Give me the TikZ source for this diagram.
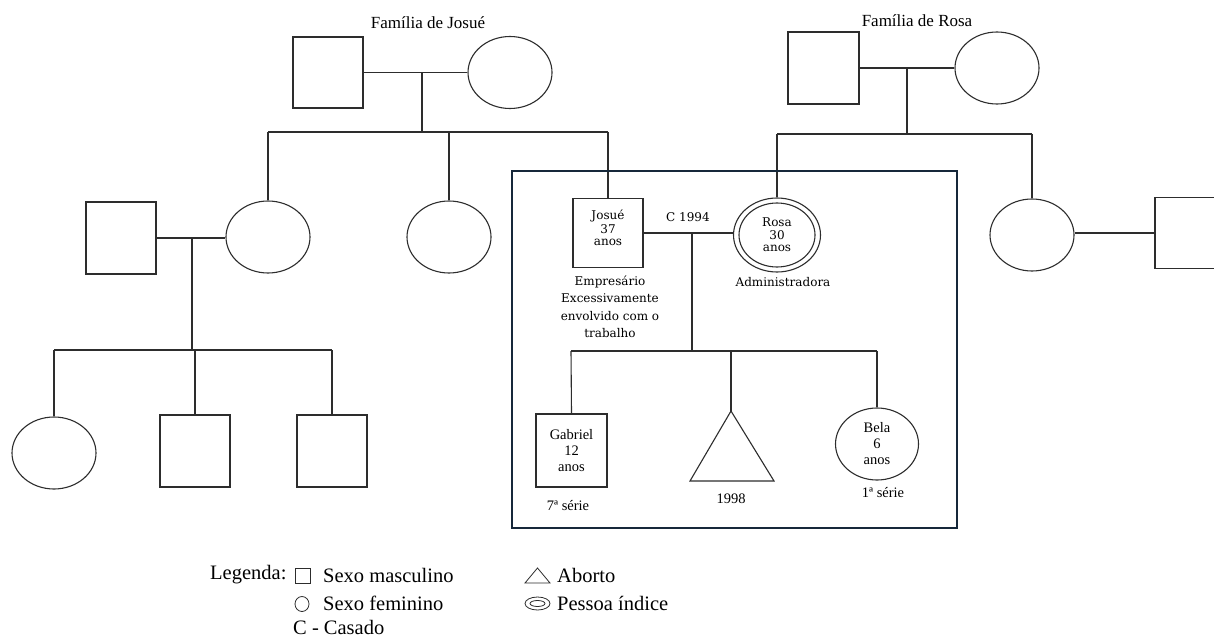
\documentclass[tikz,border=0pt]{standalone}
\usepackage{fontspec}
\setmainfont{Liberation Serif}
\newfontfamily\dvs{DejaVu Serif}
\usetikzlibrary{shapes.geometric}
\definecolor{boxblue}{RGB}{22,40,58}
\definecolor{ln}{RGB}{45,45,45}
\tikzset{
 male/.style={draw=ln,line width=1.1pt,rectangle,minimum width=70pt,minimum height=71pt,inner sep=0pt,align=center},
 female/.style={draw=ln,line width=1.1pt,ellipse,minimum width=84pt,minimum height=72pt,inner sep=0pt,align=center},
 link/.style={draw=ln,line width=1.1pt},
 small/.style={font=\fontsize{14.5}{18}\selectfont},
 wide/.style={font=\dvs\fontsize{12}{16}\selectfont},
 title/.style={font=\fontsize{17}{20}\selectfont,inner sep=0pt},
 leg/.style={font=\fontsize{20.5}{24}\selectfont,anchor=west,inner sep=0pt},
 legsym/.style={draw=ln,line width=0.8pt,inner sep=0pt},
}
\begin{document}
\begin{tikzpicture}[x=1pt,y=-1pt]
\path[use as bounding box,clip] (0,0) rectangle (1214,639);
\fill[white] (0,0) rectangle (1214,639);

% ---------- Família de Josué ----------
\node[title] (tj) at (428,23) {Família de Josué};
\node[male] (jf) at (328,72.5) {};
\node[female] (jm) at (510,72.5) {};
\draw[link] (jf.east) -- (jf.east -| jm.west);
\coordinate (jd) at (422,72.5);
\coordinate (jb) at (422,132);
\draw[link] (jd) -- (jb);
\coordinate (jl) at (268,132);
\coordinate (jr) at (608,132);
\draw[link] (jl) -- (jr);

\node[female] (js1) at (268,237) {};
\node[female] (js2) at (449,237) {};
\node[male,minimum height=69pt] (jos) at (608,233) {};
\node[wide,align=center] (josT) at (608,228) {Josué\\[-2pt]37\\[-4pt]anos};
\draw[link] (jl) -- (js1.north);
\draw[link] (js2.north |- jb) -- (js2.north);
\draw[link] (jr) -- (jos.north);

% left sister's family
\node[male,minimum height=72pt] (h1) at (121,238) {};
\draw[link] (h1.east) -- (h1.east -| js1.west);
\coordinate (ld) at (192,238);
\coordinate (lb) at (192,350);
\draw[link] (ld) -- (lb);
\coordinate (ll) at (54,350);
\coordinate (lr) at (332,350);
\draw[link] (ll) -- (lr);
\node[female] (c1) at (54,453) {};
\node[male,minimum height=72pt] (c2) at (195,451) {};
\node[male,minimum height=72pt] (c3) at (332,451) {};
\draw[link] (ll) -- (c1.north);
\draw[link] (c2.north |- lb) -- (c2.north);
\draw[link] (lr) -- (c3.north);

% ---------- Família de Rosa ----------
\node[title] (tr) at (917,21) {Família de Rosa};
\node[male,minimum width=71pt,minimum height=72pt] (rf) at (823.5,68) {};
\node[female] (rm) at (997,68) {};
\draw[link] (rf.east) -- (rf.east -| rm.west);
\coordinate (rd) at (907,68);
\coordinate (rb) at (907,134);
\draw[link] (rd) -- (rb);
\coordinate (rl) at (777,134);
\coordinate (rr) at (1032,134);
\draw[link] (rl) -- (rr);

\node[female,minimum width=87pt,minimum height=74pt] (rosa) at (777,235) {};
\node[female,minimum width=76pt,minimum height=64pt,wide] (rosain) at (777,235) {Rosa\\[-3pt]30\\[-4pt]anos};
\node[female] (rs) at (1032,235) {};
\node[male] (rh) at (1190,233) {};
\draw[link] (rl) -- (rosa.north);
\draw[link] (rs.north |- rr) -- (rs.north);
\draw[link] (rs.east |- rh.west) -- (rh.west);

% ---------- núcleo ----------
\draw[boxblue,line width=2.6pt] (512,171) rectangle (957,528);

\draw[link] (jos.east) -- (jos.east -| rosa.west);
\node[wide] (casado) at (688,217) {C 1994};
\coordinate (cd) at (692,233);
\coordinate (cb) at (692,351);
\draw[link] (cd) -- (cb);
\coordinate (cl) at (571,351);
\coordinate (cm) at (731,351);
\coordinate (cr) at (877,351);
\draw[link] (cl) -- (cr);

\node[male,minimum width=71pt,minimum height=73pt,small] (gab) at (571.5,450.5) {Gabriel\\[-2pt]12\\[-2pt]anos};
\coordinate (tA) at (731,411);
\coordinate (tB) at (774,481);
\coordinate (tC) at (690,481);
\draw[link,line join=miter] (tA) -- (tB) -- (tC) -- cycle;
\node[female,minimum width=83pt,small] (bela) at (877,444) {Bela\\[-2pt]6\\[-2pt]anos};
\draw[link] (cl) -- (gab.north);
\draw[link] (cm) -- (tA);
\draw[link] (cr) -- (bela.north);

\node[wide,align=center,font=\dvs\fontsize{12}{17.5}\selectfont] (emp) at (610,307) {Empresário\\Excessivamente\\envolvido com o\\trabalho};
\node[wide] (adm) at (783,282) {Administradora};
\node[small] (serie7) at (568,506) {7ª série};
\node[small] (ano98) at (731,499) {1998};
\node[small] (serie1) at (883,493) {1ª série};

% ---------- Legenda ----------
\node[leg] (lg) at (210,575) {Legenda:};
\node[legsym,rectangle,minimum width=15pt,minimum height=15pt] (lsq) at (302.5,575.5) {};
\node[leg] (lm) at (323,575) {Sexo masculino};
\node[legsym,ellipse,minimum width=14pt,minimum height=15pt] (lci) at (302,604) {};
\node[leg] (lf) at (323,603) {Sexo feminino};
\node[leg] (lc) at (293,627) {C - Casado};
\coordinate (lta) at (537.5,568);
\coordinate (ltb) at (550,583);
\coordinate (ltc) at (525,583);
\draw[draw=ln,line width=0.8pt] (lta) -- (ltb) -- (ltc) -- cycle;
\node[leg] (la) at (557,575) {Aborto};
\node[legsym,ellipse,minimum width=25pt,minimum height=13pt] (lpo) at (537.5,603.5) {};
\node[legsym,ellipse,minimum width=15pt,minimum height=6pt] (lpi) at (537.5,603.5) {};
\node[leg] (lp) at (557,603) {Pessoa índice};
\end{tikzpicture}
\end{document}
